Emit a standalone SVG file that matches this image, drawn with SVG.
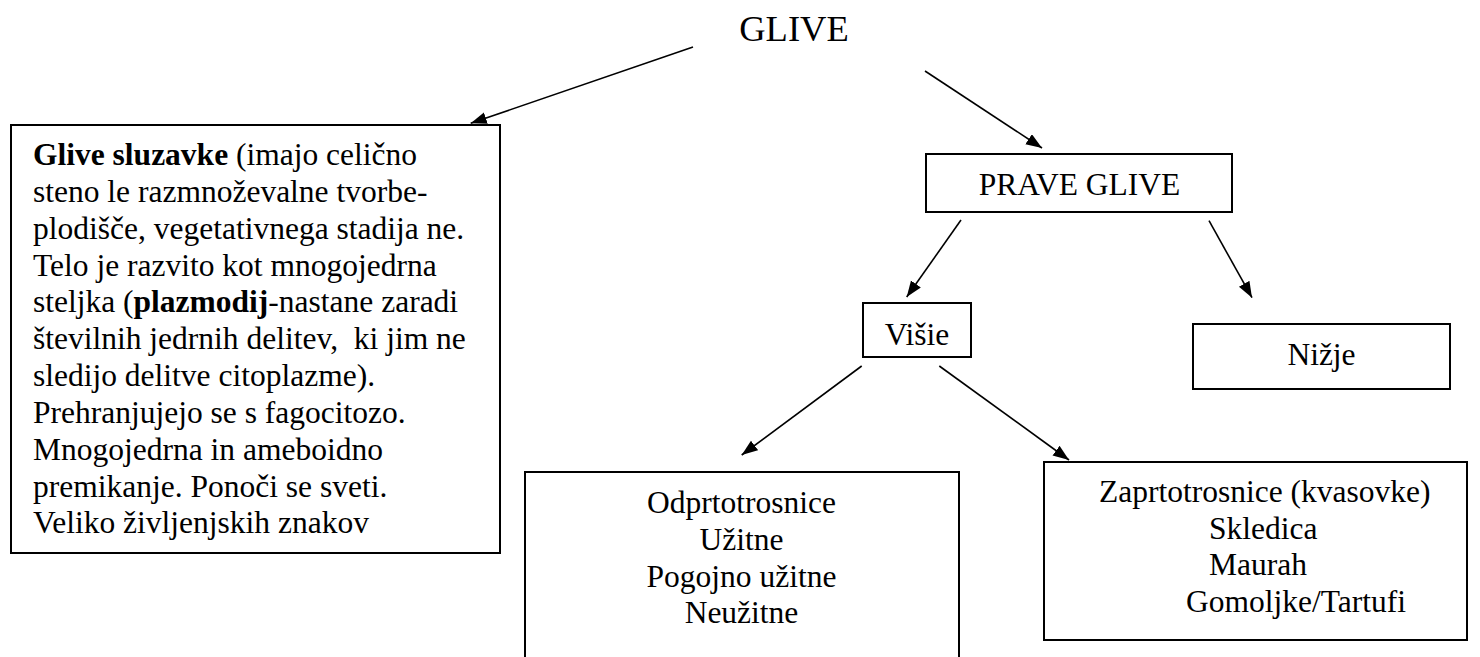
<svg xmlns="http://www.w3.org/2000/svg" width="1480" height="657" viewBox="0 0 1480 657">
<style>
.box{fill:#fff;stroke:#000;stroke-width:2}
.t{font-family:"Liberation Serif","Times New Roman",serif;font-size:31.5px;fill:#000;white-space:pre}
.c{text-anchor:middle}
.b{font-weight:bold}
.con line{stroke:#000;stroke-width:1.6;marker-end:url(#ah)}
</style>
<defs>
<marker id="ah" markerUnits="userSpaceOnUse" markerWidth="17" markerHeight="13" refX="16" refY="6" orient="auto">
<path d="M0,0 L16,6 L0,12 z" fill="#000"/>
</marker>
</defs>
<rect width="1480" height="657" fill="#fff"/>
<g id="glive">
<text class="t c" x="794" y="40.5" style="font-size:36.5px">GLIVE</text>
</g>
<g id="sluzavke">
<rect class="box" x="11" y="125" width="489" height="428"/>
<text class="t" x="33" y="165"><tspan class="b">Glive sluzavke</tspan> (imajo celično</text>
<text class="t" x="33" y="201.8">steno le razmnoževalne tvorbe-</text>
<text class="t" x="33" y="238.7">plodišče, vegetativnega stadija ne.</text>
<text class="t" x="33" y="275.5">Telo je razvito kot mnogojedrna</text>
<text class="t" x="33" y="312.3">steljka (<tspan class="b">plazmodij</tspan>-nastane zaradi</text>
<text class="t" x="33" y="349.2">številnih jedrnih delitev,  ki jim ne</text>
<text class="t" x="33" y="386">sledijo delitve citoplazme).</text>
<text class="t" x="33" y="422.8">Prehranjujejo se s fagocitozo.</text>
<text class="t" x="33" y="459.7">Mnogojedrna in ameboidno</text>
<text class="t" x="33" y="496.5">premikanje. Ponoči se sveti.</text>
<text class="t" x="33" y="533.3">Veliko življenjskih znakov</text>
</g>
<g id="prave">
<rect class="box" x="926" y="154" width="306" height="58"/>
<text class="t c" x="1079.5" y="195">PRAVE GLIVE</text>
</g>
<g id="visje">
<rect class="box" x="863" y="303" width="108" height="54"/>
<text class="t c" x="917" y="345">Višie</text>
</g>
<g id="nizje">
<rect class="box" x="1193" y="324" width="257" height="65"/>
<text class="t c" x="1321.5" y="365">Nižje</text>
</g>
<g id="odprto">
<rect class="box" x="525" y="472" width="434" height="240"/>
<text class="t c" x="741.5" y="513.3">Odprtotrosnice</text>
<text class="t c" x="741.5" y="550">Užitne</text>
<text class="t c" x="741.5" y="586.7">Pogojno užitne</text>
<text class="t c" x="741.5" y="623.4">Neužitne</text>
</g>
<g id="zaprto">
<rect class="box" x="1044" y="462" width="423" height="178"/>
<text class="t" x="1099" y="501.7">Zaprtotrosnice (kvasovke)</text>
<text class="t" x="1209" y="538.5">Skledica</text>
<text class="t" x="1209" y="575.3">Maurah</text>
<text class="t" x="1186" y="612">Gomoljke/Tartufi</text>
</g>
<g id="connectors" class="con">
<line x1="693" y1="47" x2="470.7" y2="123.3"/>
<line x1="925" y1="71" x2="1042" y2="148"/>
<line x1="961" y1="220" x2="906.7" y2="297"/>
<line x1="1209" y1="220.7" x2="1252" y2="297.7"/>
<line x1="861.7" y1="366" x2="741.7" y2="455"/>
<line x1="939.3" y1="366" x2="1069" y2="460"/>
</g>
</svg>
